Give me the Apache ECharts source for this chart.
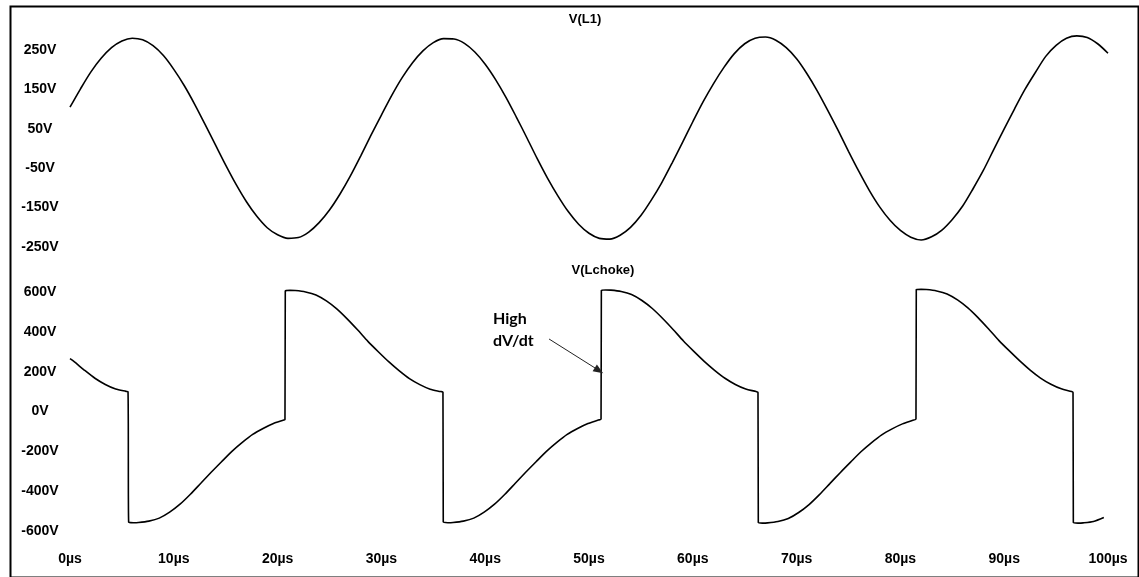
<!DOCTYPE html>
<html>
<head>
<meta charset="utf-8">
<script src="https://cdn.jsdelivr.net/npm/echarts@6/dist/echarts.min.js"></script>
<style>
html,body{margin:0;padding:0;background:#fff;}
#chart{width:1139px;height:577px;}
</style>
</head>
<body>
<div id="chart"></div>
<script>
// ---- data ----
const topTitle = 'V(L1)';
const bottomTitle = 'V(Lchoke)';
const xTicks = [0, 10, 20, 30, 40, 50, 60, 70, 80, 90, 100];           // µs
const topTicks = [-250, -150, -50, 50, 150, 250];                         // V
const bottomTicks = [-600, -400, -200, 0, 200, 400, 600];                 // V

const l1Time = [0,1,2,3,4,5,6,7,8,9,10,11,12,13,14,15,16,17,18,19,20,21,22,23,24,25,26,27,28,29,
  30,31,32,33,34,35,36,37,38,39,40,41,42,43,44,45,46,47,48,49,50,51,52,53,54,55,56,57,58,59,
  60,61,62,63,64,65,66,67,68,69,70,71,72,73,74,75,76,77,78,79,80,81,82,83,84,85,86,87,88,89,
  90,91,92,93,94,95,96,97,98,99,100];
const l1Volt = [105,151,194,229,256,273,280,276,261,236,201,160,113,62,10,-42,-91,-135,-172,-201,
  -219,-228,-226,-212,-188,-156,-116,-70,-19,34,
  85,135,180,218,248,269,279,278,267,245,214,175,130,80,28,-25,-75,-120,-160,-192,
  -215,-228,-230,-220,-200,-170,-131,-87,-37,15,
  68,119,165,206,241,266,280,283,275,256,228,190,146,97,46,-7,-58,-106,-148,-182,
  -208,-225,-232,-224,-207,-180,-146,-102,-55,-2,
  50,101,150,193,234,262,280,286,282,266,242];

const chokeTime = [0,0.4,1.4,2.4,3.4,4.4,5.4,5.59,5.65,
  6.1,6.6,7.6,8.6,9.6,10.6,11.6,12.6,13.6,14.6,15.6,16.6,17.6,18.6,19.6,20.6,20.71,20.74,
  21.2,21.7,22.7,23.7,24.7,25.7,26.7,27.7,28.7,29.7,30.7,31.7,32.7,33.7,34.7,35.7,35.93,35.96,
  36.4,36.9,37.9,38.9,39.9,40.9,41.9,42.9,43.9,44.9,45.9,46.9,47.9,48.9,49.9,50.9,51.16,51.19,
  51.6,52.1,53.1,54.1,55.1,56.1,57.1,58.1,59.1,60.1,61.1,62.1,63.1,64.1,65.1,66.1,66.28,66.31,
  66.7,67.2,68.2,69.2,70.2,71.2,72.2,73.2,74.2,75.2,76.2,77.2,78.2,79.2,80.2,81.2,81.5,81.53,
  82.0,82.5,83.5,84.5,85.5,86.5,87.5,88.5,89.5,90.5,91.5,92.5,93.5,94.5,95.5,96.5,96.63,96.66,
  97.1,97.6,98.6,99.6];
const chokeVolt = [265,250,207,167,136,113,101,99,-555,
  -558,-557,-550,-535,-505,-465,-415,-360,-305,-252,-200,-155,-115,-85,-60,-43,-40,605,
  608,607,600,585,555,515,465,410,352,300,250,205,165,135,112,100,97,-555,
  -558,-557,-550,-535,-505,-465,-415,-360,-305,-252,-200,-155,-115,-85,-60,-43,-38,608,
  610,609,602,587,557,517,467,412,354,302,252,207,167,136,113,100,96,-557,
  -560,-559,-552,-537,-507,-467,-417,-362,-307,-254,-202,-157,-117,-87,-62,-44,-38,612,
  613,612,605,590,560,520,470,414,356,304,254,208,168,137,114,100,96,-557,
  -560,-559,-552,-532];

// annotation (data coordinates of the bottom pane)
const noteText = 'High\ndV/dt';
const noteAt = [40.75, 409];
const arrowFrom = [46.15, 364];
const arrowTo = [50.96, 206];

// ---- chart ----
const pair = (xs, ys) => xs.map((x, i) => [x, ys[i]]);
const labelFont = {fontFamily: '"Liberation Sans", Arial, sans-serif', fontWeight: 'bold', fontSize: 14, color: '#000'};
const titleFont = {fontFamily: '"Liberation Sans", Arial, sans-serif', fontWeight: 'bold', fontSize: 13, color: '#000'};

const chart = echarts.init(document.getElementById('chart'), null, {renderer: 'canvas'});
const hiddenAxisParts = {axisLine: {show: false}, axisTick: {show: false}, splitLine: {show: false}};

chart.setOption({
  animation: false,
  backgroundColor: '#fff',
  title: [
    {text: topTitle, left: 580, top: 8, textAlign: 'center', textStyle: titleFont},
    {text: bottomTitle, left: 598, top: 259, textAlign: 'center', textStyle: titleFont}
  ],
  grid: [
    {left: 70, right: 31, top: 28, height: 234},
    {left: 70, right: 31, top: 282, height: 266}
  ],
  xAxis: [
    Object.assign({gridIndex: 0, type: 'value', min: 0, max: 100, interval: 10,
      axisLabel: {show: false}}, hiddenAxisParts),
    Object.assign({gridIndex: 1, type: 'value', min: xTicks[0], max: xTicks[xTicks.length - 1], interval: 10,
      axisLabel: Object.assign({formatter: '{value}µs', margin: 4}, labelFont)}, hiddenAxisParts)
  ],
  yAxis: [
    Object.assign({gridIndex: 0, type: 'value', min: -288, max: 306,
      axisLabel: Object.assign({customValues: topTicks, formatter: '{value}V', align: 'center', margin: 30}, labelFont)},
      hiddenAxisParts),
    Object.assign({gridIndex: 1, type: 'value', min: -685, max: 650,
      axisLabel: Object.assign({customValues: bottomTicks, formatter: '{value}V', align: 'center', margin: 30}, labelFont)},
      hiddenAxisParts)
  ],
  series: [
    {type: 'line', xAxisIndex: 0, yAxisIndex: 0, data: pair(l1Time, l1Volt), smooth: 0.3,
     showSymbol: false, lineStyle: {color: '#000', width: 1.6}},
    {type: 'line', xAxisIndex: 1, yAxisIndex: 1, data: pair(chokeTime, chokeVolt), smooth: 0.25,
     showSymbol: false, lineStyle: {color: '#000', width: 1.6},
     markLine: {
       silent: true, symbol: ['none', 'triangle'], symbolSize: [8, 10],
       lineStyle: {color: '#222', width: 1, type: 'solid'},
       label: {show: false},
       data: [[{coord: arrowFrom}, {coord: arrowTo}]]
     },
     markPoint: {
       silent: true, symbol: 'circle', symbolSize: 0,
       label: {show: true, position: 'right', distance: 0, formatter: noteText,
         fontFamily: 'Lato, "Open Sans", sans-serif', fontWeight: 'bold', fontSize: 16, lineHeight: 22, color: '#000', align: 'left'},
       data: [{coord: noteAt}]
     }}
  ],
  graphic: [
    {type: 'rect', left: 8, top: 4, shape: {width: 1128, height: 571},
     style: {fill: 'none', stroke: '#000', lineWidth: 2}, silent: true, z: 100}
  ]
});
</script>
</body>
</html>
